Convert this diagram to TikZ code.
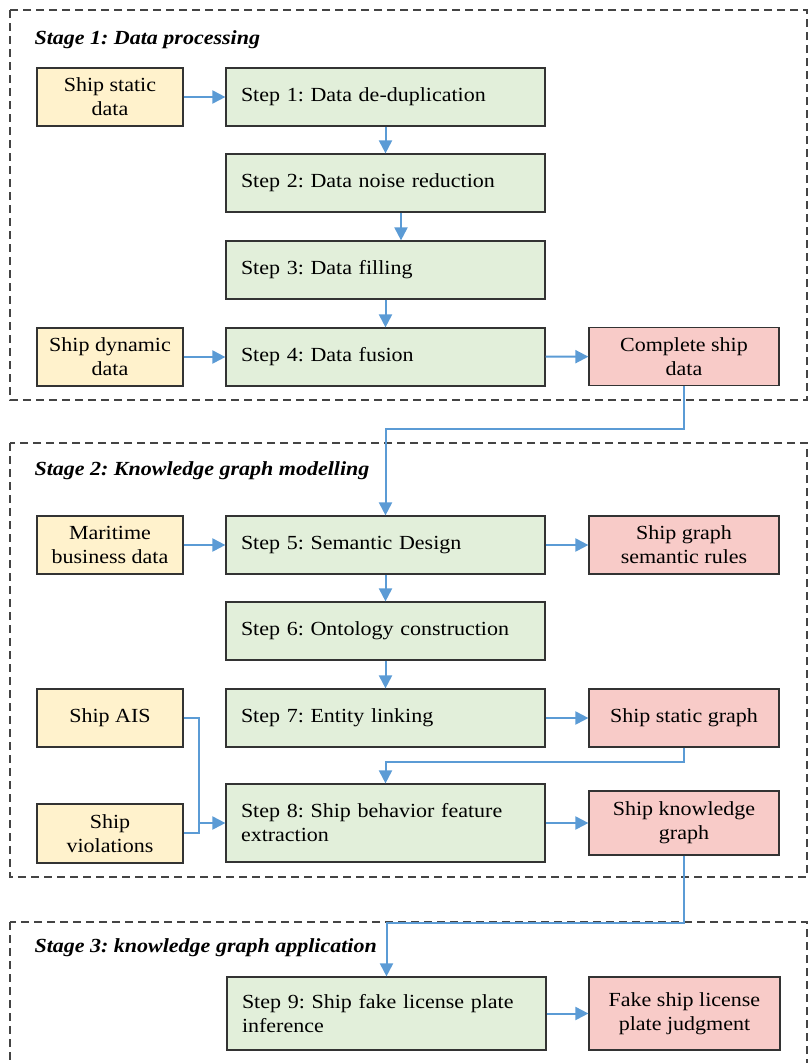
\documentclass[tikz,border=0pt]{standalone}
\usepackage{fontspec}
\setmainfont{Liberation Serif}[FakeStretch=1.1]
\usetikzlibrary{arrows.meta}

\definecolor{inyellow}{HTML}{FFF2CC}
\definecolor{stepgreen}{HTML}{E2EFDA}
\definecolor{outpink}{HTML}{F8CBC8}
\definecolor{flowblue}{HTML}{5B9BD5}
\definecolor{edgegray}{HTML}{333333}
\definecolor{stagegray}{HTML}{444444}

\frenchspacing
\begin{document}
\begin{tikzpicture}[x=1pt,y=-1pt,
  box/.style={draw=edgegray, line width=1.2pt, minimum height=58pt, inner sep=0pt,
              font=\fontsize{20}{24}\selectfont},
  inbox/.style={box, fill=inyellow, minimum width=146pt, align=center},
  stepbox/.style={box, fill=stepgreen, minimum width=319pt, text width=289pt, align=left},
  outbox/.style={box, fill=outpink, minimum width=190pt, align=center},
  flow/.style={draw=flowblue, line width=2pt, -{Triangle[length=13pt,width=13pt]}},
  link/.style={draw=flowblue, line width=2pt},
  stage/.style={draw=stagegray, dash pattern=on 8pt off 5pt, line width=1.3pt},
  stagetitle/.style={anchor=west, font=\fontsize{20}{24}\selectfont\bfseries\itshape}]

\clip (0,0) rectangle (809,1063);

% stage frames
\draw[stage] (10,10) rectangle (807,400);
\draw[stage] (10,443) rectangle (807,877);
\draw[stage] (10,922) rectangle (807,1090);

\node[stagetitle] (t1) at (31,40) {Stage 1: Data processing};
\node[stagetitle] (t2) at (31,471) {Stage 2: Knowledge graph modelling};
\node[stagetitle] (t3) at (31,948) {Stage 3: knowledge graph application};

% stage 1
\node[inbox]   (staticdata)  at (110,97)    {Ship static\\data};
\node[stepbox] (st1) at (385.5,97)  {Step 1: Data de-duplication};
\node[stepbox] (st2) at (385.5,183) {Step 2: Data noise reduction};
\node[stepbox] (st3) at (385.5,270) {Step 3: Data filling};
\node[stepbox] (st4) at (385.5,357) {Step 4: Data fusion};
\node[inbox]   (dyndata)     at (110,357)   {Ship dynamic\\data};
\node[outbox]  (complete)    at (684,356.5) {Complete ship\\data};

% stage 2
\node[inbox]   (maritime)    at (110,545)   {Maritime\\business data};
\node[stepbox] (st5) at (385.5,545) {Step 5: Semantic Design};
\node[outbox]  (rules)       at (684,545)   {Ship graph\\semantic rules};
\node[stepbox] (st6) at (385.5,631) {Step 6: Ontology construction};
\node[stepbox] (st7) at (385.5,718) {Step 7: Entity linking};
\node[inbox]   (ais)         at (110,718)   {Ship AIS};
\node[outbox]  (staticgraph) at (684,718)   {Ship static graph};
\node[stepbox, minimum height=78pt] (st8) at (385.5,823) {Step 8: Ship behavior feature\\extraction};
\node[inbox, minimum height=59pt] (violations) at (110,833.5) {Ship\\violations};
\node[outbox, minimum height=64pt] (kgraph) at (684,823) {Ship knowledge\\graph};

% stage 3
\node[stepbox, minimum height=73pt] (st9) at (386.5,1013.5) {Step 9: Ship fake license plate\\inference};
\node[outbox, minimum height=73pt, minimum width=191pt] (fake) at (684.5,1013.5) {Fake ship license\\plate judgment};

% connectors, stage 1
\draw[flow] (staticdata) -- (st1);
\draw[flow] (st1) -- (st2);
\draw[flow] ([xshift=15.5pt]st2.south) -- ([xshift=15.5pt]st3.north);
\draw[flow] (st3) -- (st4);
\draw[flow] (dyndata) -- (st4);
\draw[flow] (st4) -- (complete);
\draw[flow] (complete.south) -- ++(0,43) -| (st5.north);

% connectors, stage 2
\draw[flow] (maritime) -- (st5);
\draw[flow] (st5) -- (rules);
\draw[flow] (st5) -- (st6);
\draw[flow] (st6) -- (st7);
\draw[flow] (st7) -- (staticgraph);
\draw[flow] (staticgraph.south) -- ++(0,14) -| (st8.north);
\coordinate (merge) at (199,823);
\draw[link] (ais.east) -| (merge);
\draw[link] (violations.east |- 0,833) -| (merge);
\draw[flow] (merge) -- (st8.west);
\draw[flow] (st8) -- (kgraph);
\draw[flow] (kgraph.south) -- ++(0,67) -| (st9.north);

% connectors, stage 3
\draw[flow] (st9) -- (fake);

\end{tikzpicture}
\end{document}
